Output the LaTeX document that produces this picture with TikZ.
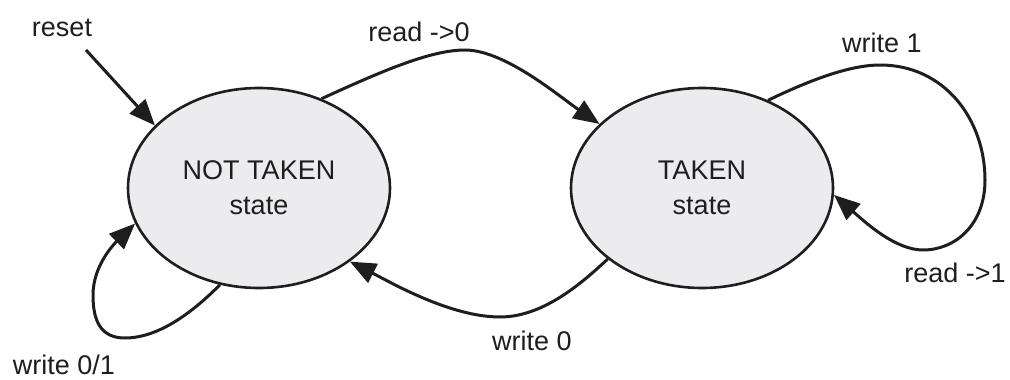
\documentclass[tikz,border=0pt]{standalone}
\usepackage{fontspec}
\setmainfont{Liberation Sans}
\usetikzlibrary{shapes.geometric,arrows.meta}
\definecolor{statefill}{HTML}{ECEBEE}
\definecolor{ink}{HTML}{1E1E1E}
\begin{document}
\begin{tikzpicture}[x=1pt,y=-1pt,
  statebox/.style={ellipse,draw=ink,fill=statefill,line width=2.6pt,minimum width=262pt,minimum height=200pt,inner sep=0pt,align=center,text=ink,font=\fontsize{27}{35}\selectfont},
  lbl/.style={text=ink,font=\fontsize{27}{32}\selectfont,inner sep=0pt},
  edge/.style={draw=ink,line width=3pt,-{Triangle[length=26pt,width=21pt]}}]
\useasboundingbox (0,0) rectangle (1010,380);
\node[statebox] (nt) at (259,188) {NOT TAKEN\\state};
\node[statebox] (t) at (702,188) {TAKEN\\state};
\coordinate (rs) at (86,50);
\node[lbl] (lreset) at (62,28) {reset};
\node[lbl] (lr0) at (419,32) {read ->0};
\node[lbl] (lw1) at (882,43) {write 1};
\node[lbl] (lr1) at (955,273) {read ->1};
\node[lbl] (lw0) at (532,341) {write 0};
\node[lbl] (lw01) at (64,365) {write 0/1};
% reset
\draw[edge] (rs) -- (nt.149);
% read ->0
\draw[edge] (nt.55) .. controls (380,72) and (430,50) .. (465,50)
  .. controls (505,50) and (560,97) .. (t.148);
% write 1 / read ->1 loop
\draw[edge] (t.53) .. controls (810,80) and (850,65) .. (880,65)
  .. controls (945,65) and (985,120) .. (985,180)
  .. controls (985,225) and (955,250) .. (923,250)
  .. controls (895,250) and (865,222) .. (t.-3);
% write 0
\draw[edge] (t.217) .. controls (585,280) and (545,317) .. (500,317)
  .. controls (450,317) and (390,282) .. (nt.-39);
% write 0/1 loop
\draw[edge] (nt.248) .. controls (195,310) and (160,338) .. (125,338)
  .. controls (100,338) and (93,320) .. (93,295)
  .. controls (93,265) and (115,243) .. (nt.196);
\end{tikzpicture}
\end{document}
